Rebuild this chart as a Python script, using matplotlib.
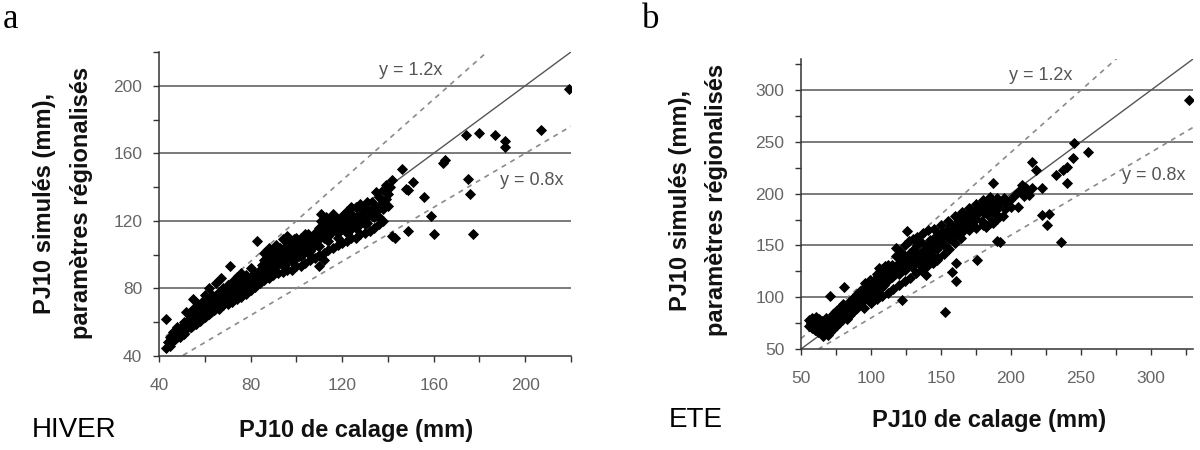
import numpy as np
import matplotlib
matplotlib.use('Agg')
from matplotlib import pyplot as plt
from matplotlib.ticker import MultipleLocator

plt.rcParams['font.family'] = ['Liberation Sans', 'DejaVu Sans']

# HIVER (winter): PJ10 de calage vs PJ10 simules
hiver = [
    (43, 45), (43, 62), (44, 48), (45, 46), (45, 51), (46, 49), (46, 54), (47, 50), (48, 53), (48, 57),
    (49, 51), (50, 55), (50, 58), (51, 53), (51, 60), (52, 56), (52, 66), (53, 58), (53, 62), (54, 57),
    (54, 64), (55, 60), (55, 68), (55, 74), (56, 59), (56, 63), (57, 62), (57, 66), (57, 71), (58, 61),
    (58, 68), (59, 64), (59, 72), (60, 63), (60, 67), (60, 76), (61, 65), (61, 70), (62, 66), (62, 73),
    (62, 80), (63, 68), (63, 76), (64, 67), (64, 71), (65, 70), (65, 74), (65, 83), (66, 69), (66, 78),
    (67, 72), (67, 76), (67, 86), (68, 71), (68, 80), (69, 73), (69, 77), (70, 74), (70, 82), (71, 76),
    (71, 93), (71, 79), (72, 75), (72, 84), (73, 78), (73, 81), (74, 77), (74, 87), (75, 80), (75, 84),
    (76, 79), (76, 89), (77, 82), (77, 86), (78, 81), (78, 88), (79, 84), (80, 83), (80, 87), (80, 92),
    (81, 85), (82, 84), (82, 89), (83, 87), (83, 108), (84, 86), (84, 91), (85, 89), (85, 94), (86, 88),
    (86, 97), (87, 90), (87, 93), (88, 92), (88, 99), (89, 91), (89, 95), (90, 94), (90, 98), (90, 103),
    (91, 93), (92, 96), (92, 100), (93, 95), (93, 104), (94, 97), (94, 101), (95, 99), (95, 94), (96, 100),
    (96, 106), (97, 98), (97, 103), (98, 101), (98, 108), (99, 97), (99, 104), (100, 102), (100, 110),
    (101, 99), (101, 106), (102, 104), (102, 109), (103, 101), (103, 107), (104, 105), (104, 112),
    (105, 103), (105, 109), (106, 107), (106, 100), (107, 110), (107, 104), (108, 108), (108, 113),
    (109, 106), (109, 111), (110, 93), (110, 109), (110, 116), (111, 112), (111, 120), (112, 97),
    (112, 110), (112, 115), (113, 118), (113, 122), (114, 111), (114, 116), (115, 113), (115, 120),
    (116, 118), (116, 124), (117, 115), (118, 113), (118, 121), (119, 117), (120, 115), (120, 123),
    (121, 119), (122, 117), (122, 126), (123, 121), (124, 115), (124, 124), (125, 119), (126, 122),
    (126, 128), (127, 117), (128, 120), (128, 126), (129, 124), (130, 121), (130, 128), (131, 119),
    (132, 125), (133, 123), (133, 131), (134, 128), (135, 126), (135, 137), (136, 134), (136, 122),
    (137, 130), (138, 138), (138, 127), (139, 133), (139, 141), (140, 136), (140, 129), (141, 140),
    (142, 144), (142, 111), (143, 110), (146, 151), (148, 139), (149, 138), (149, 114), (151, 143),
    (156, 134), (159, 123), (160, 112), (164, 154), (165, 156), (174, 171), (175, 145), (176, 136),
    (177, 112), (180, 172), (187, 171), (191, 167), (191, 164), (207, 174), (219, 198),
    # lower side of the cloud
    (62, 65), (66, 68), (68, 70), (70, 71), (72, 72), (74, 74), (76, 75), (78, 77), (80, 79), (82, 81),
    (84, 83), (86, 85), (88, 86), (90, 88), (92, 89), (94, 90), (96, 91), (98, 91), (100, 93),
    (102, 93), (104, 95), (106, 97), (108, 98), (110, 100), (112, 101), (114, 103), (116, 104),
    (118, 106), (120, 107), (122, 108), (124, 110), (126, 110), (128, 112), (130, 113), (132, 114),
    (134, 116), (136, 118), (138, 120),
    # middle of the cloud
    (74, 82), (78, 84), (82, 87), (86, 91), (90, 91), (94, 94), (98, 96), (102, 99), (106, 102),
    (110, 105), (114, 108), (118, 110), (122, 113), (126, 116), (130, 118), (134, 122),
    # upper side of the cloud
    (86, 101), (88, 104), (91, 106), (94, 109), (96, 111), (99, 109), (102, 110), (105, 112),
    (109, 113), (111, 124), (117, 122), (121, 121), (124, 128), (128, 130), (131, 131),
]

# ETE (summer)
ete = [
    (56, 72), (56, 78), (57, 75), (58, 70), (58, 80), (59, 74), (60, 68), (60, 77), (61, 72), (61, 81),
    (62, 66), (62, 75), (63, 70), (63, 79), (64, 65), (64, 73), (65, 68), (65, 77), (66, 63), (66, 71),
    (67, 66), (67, 75), (68, 70), (68, 80), (69, 64), (69, 73), (70, 68), (70, 77), (71, 101), (71, 66),
    (72, 72), (72, 80), (73, 69), (73, 84), (74, 76), (75, 72), (75, 82), (76, 78), (76, 88), (77, 75),
    (78, 81), (78, 90), (79, 78), (80, 85), (80, 93), (81, 110), (81, 82), (82, 88), (83, 79), (83, 92),
    (84, 86), (85, 83), (85, 96), (86, 90), (87, 87), (87, 99), (88, 93), (89, 89), (90, 96), (90, 103),
    (91, 92), (92, 99), (92, 106), (93, 95), (94, 101), (95, 97), (95, 109), (96, 104), (96, 114),
    (97, 100), (98, 107), (98, 113), (99, 103), (99, 117), (100, 110), (100, 98), (101, 106), (102, 113),
    (103, 104), (103, 118), (104, 110), (104, 122), (105, 107), (105, 116), (106, 113), (107, 109),
    (107, 121), (108, 116), (108, 127), (109, 112), (110, 119), (110, 125), (111, 115), (112, 122),
    (112, 131), (113, 118), (113, 128), (114, 124), (115, 120), (115, 131), (116, 127), (117, 123),
    (118, 130), (118, 140), (118, 148), (119, 126), (120, 133), (120, 122), (121, 129), (121, 145),
    (122, 97), (122, 136), (123, 131), (124, 126), (124, 140), (124, 150), (125, 134), (126, 164),
    (126, 130), (127, 137), (127, 154), (128, 133), (128, 143), (129, 129), (130, 139), (130, 146),
    (130, 156), (131, 135), (132, 141), (133, 137), (133, 150), (133, 158), (134, 132), (135, 143),
    (136, 139), (136, 153), (137, 134), (137, 162), (138, 146), (139, 121), (139, 141), (140, 149),
    (141, 137), (141, 165), (142, 155), (143, 145), (144, 140), (145, 151), (145, 166), (146, 158),
    (147, 136), (147, 147), (148, 160), (149, 153), (150, 157), (150, 170), (151, 163), (152, 150),
    (153, 86), (154, 160), (155, 166), (155, 174), (156, 156), (157, 170), (158, 124), (158, 163),
    (160, 168), (160, 160), (160, 178), (161, 133), (161, 116), (162, 174), (163, 165), (164, 178),
    (165, 171), (165, 182), (165, 163), (167, 176), (168, 168), (169, 181), (170, 173), (170, 186),
    (170, 165), (172, 179), (173, 170), (174, 184), (175, 176), (175, 190), (175, 167), (176, 136),
    (177, 182), (178, 186), (179, 174), (180, 190), (180, 194), (180, 170), (181, 181), (182, 168),
    (183, 187), (184, 178), (185, 193), (185, 197), (185, 172), (186, 184), (187, 210), (187, 172),
    (188, 189), (189, 180), (190, 154), (190, 196), (190, 176), (191, 186), (192, 153), (193, 192),
    (194, 178), (195, 196), (196, 185), (197, 190), (199, 194), (200, 187), (203, 199), (205, 187),
    (206, 203), (208, 208), (209, 198), (211, 205), (213, 199), (215, 231), (215, 205), (218, 223),
    (222, 205), (222, 179), (226, 170), (227, 180), (232, 218), (236, 153), (237, 223), (240, 226),
    (240, 210), (244, 234), (245, 249), (255, 240), (327, 290),
    # lower side of the cloud
    (95, 90), (100, 94), (104, 98), (108, 101), (112, 104), (116, 108), (120, 112), (124, 116),
    (128, 119), (132, 123), (136, 126), (140, 130), (144, 133), (148, 138), (152, 142), (156, 147),
    (160, 152), (164, 157),
    # upper side
    (106, 128), (110, 130),
]

panels = [
    dict(data=hiver, lim=(40, 220), major=40, minor=20, x0=43,
         lab12=(150, 209), lab08=(203, 144),
         rect=[0.1325, 0.2089, 0.3433, 0.6756]),
    dict(data=ete, lim=(50, 330), major=50, minor=25, x0=50,
         lab12=(221, 314), lab08=(302, 218),
         rect=[0.6675, 0.2244, 0.3267, 0.6444]),
]

fig = plt.figure(figsize=(12, 4.5), dpi=100)

for p in panels:
    ax = fig.add_axes(p['rect'])
    lo, hi = p['lim']
    xs = np.array([d[0] for d in p['data']])
    ys = np.array([d[1] for d in p['data']])

    # horizontal gridlines only
    for g in np.arange(lo + p['major'], hi + 1, p['major']):
        ax.axhline(g, color='#7a7a7a', lw=1.4, zorder=1)

    xl = np.array([p['x0'], hi])
    ax.plot(xl, xl, color='#555555', lw=1.0, zorder=2)
    ax.plot(xl, 1.2 * xl, color='#8a8a8a', lw=1.2, ls=(0, (3, 3)), zorder=2)
    ax.plot(xl, 0.8 * xl, color='#8a8a8a', lw=1.2, ls=(0, (3, 3)), zorder=2)

    ax.plot(xs, ys, ls='none', marker='D', ms=5, mfc='black', mec='black',
            mew=0.6, zorder=3)

    ax.text(*p['lab12'], 'y = 1.2x', color='#555555', fontsize=13,
            ha='center', va='center')
    ax.text(*p['lab08'], 'y = 0.8x', color='#555555', fontsize=13,
            ha='center', va='center')

    ax.set_xlim(lo, hi)
    ax.set_ylim(lo, hi)
    ax.xaxis.set_major_locator(MultipleLocator(p['major']))
    ax.yaxis.set_major_locator(MultipleLocator(p['major']))
    ax.xaxis.set_minor_locator(MultipleLocator(p['minor']))
    ax.yaxis.set_minor_locator(MultipleLocator(p['minor']))
    ax.set_xticks([t for t in ax.get_xticks() if lo <= t < hi])
    ax.set_yticks([t for t in ax.get_yticks() if lo <= t < hi])

    for s in ['top', 'right']:
        ax.spines[s].set_visible(False)
    for s in ['left', 'bottom']:
        ax.spines[s].set_color('#333333')
        ax.spines[s].set_linewidth(1.1)
    ax.tick_params(which='both', direction='out', length=4, width=1,
                   color='#333333', labelcolor='#666666', labelsize=12.5)
    ax.tick_params(axis='x', which='major', pad=12)
    ax.tick_params(axis='y', which='major', pad=8)


def px(x, y):
    return x / 1200, 1 - y / 450


lab_kw = dict(fontsize=17, fontweight='bold', color='#111111',
              ha='center', va='center')

# left panel texts
fig.text(*px(45, 203), 'PJ10 simulés (mm),', rotation=90, **lab_kw)
fig.text(*px(82, 203), 'paramètres régionalisés', rotation=90, **lab_kw)
fig.text(*px(356, 430), 'PJ10 de calage (mm)', **lab_kw)
fig.text(*px(32, 430), 'HIVER', fontsize=20, color='black', ha='left', va='center')
fig.text(*px(3, 20), 'a', fontsize=25, family='Liberation Serif', ha='left', va='center')

# right panel texts
fig.text(*px(680, 200), 'PJ10 simulés (mm),', rotation=90, **lab_kw)
fig.text(*px(717, 200), 'paramètres régionalisés', rotation=90, **lab_kw)
fig.text(*px(989, 420), 'PJ10 de calage (mm)', **lab_kw)
fig.text(*px(669, 420), 'ETE', fontsize=20, color='black', ha='left', va='center')
fig.text(*px(642, 20), 'b', fontsize=25, family='Liberation Serif', ha='left', va='center')

fig.savefig('out.png', dpi=100, facecolor='white')
